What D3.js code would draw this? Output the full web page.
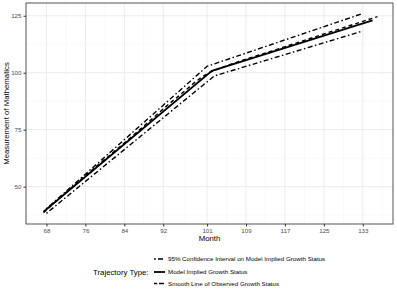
<!DOCTYPE html>
<html>
<head>
<meta charset="utf-8">
<script src="https://cdn.jsdelivr.net/npm/d3@7"></script>
<style>
  body { margin: 0; background: #fff; }
  text { font-family: "Liberation Sans", Arial, sans-serif; }
</style>
</head>
<body>
<svg width="397" height="297"></svg>
<script>
// data
var xTicks = [68, 76, 84, 92, 101, 109, 117, 125, 133];
var yTicks = [50, 75, 100, 125];

var modelMonth = [67.4, 102, 135];
var modelValue = [39, 100.8, 123];

var upperMonth = [68, 101, 133];
var upperValue = [40.3, 102.8, 126];
var lowerMonth = [68, 102.5, 133];
var lowerValue = [38.3, 98.6, 118.3];

var smoothMonth = [67.4, 75, 85, 95, 101, 105, 115, 125, 136];
var smoothValue = [38.6, 53, 71, 89.5, 99.5, 103, 110, 117, 124.6];

var legendLabels = [
  "95% Confidence Interval on Model Implied Growth Status",
  "Model Implied Growth Status",
  "Smooth Line of Observed Growth Status"
];

var svg = d3.select('svg');
var panel = {left: 26, top: 3, right: 393, bottom: 224};

var x = d3.scaleLinear().domain([63.8, 139.2]).range([panel.left, panel.right]);
var y = d3.scaleLinear().domain([33.6, 130.6]).range([panel.bottom, panel.top]);

// minor grid = midpoints between breaks (plus one each side)
var xMinor = [64];
for (var i = 0; i < xTicks.length - 1; i++) xMinor.push((xTicks[i] + xTicks[i + 1]) / 2);
xMinor.push(137);
var yMinor = [37.5, 62.5, 87.5, 112.5];

var grid = svg.append('g');
grid.selectAll('.xm').data(xMinor).enter().append('line')
  .attr('x1', d => x(d)).attr('x2', d => x(d))
  .attr('y1', panel.top).attr('y2', panel.bottom)
  .attr('stroke', '#f2f2f2').attr('stroke-width', 0.5);
grid.selectAll('.ym').data(yMinor).enter().append('line')
  .attr('y1', d => y(d)).attr('y2', d => y(d))
  .attr('x1', panel.left).attr('x2', panel.right)
  .attr('stroke', '#f2f2f2').attr('stroke-width', 0.5);
grid.selectAll('.xM').data(xTicks).enter().append('line')
  .attr('x1', d => x(d)).attr('x2', d => x(d))
  .attr('y1', panel.top).attr('y2', panel.bottom)
  .attr('stroke', '#ebebeb').attr('stroke-width', 1);
grid.selectAll('.yM').data(yTicks).enter().append('line')
  .attr('y1', d => y(d)).attr('y2', d => y(d))
  .attr('x1', panel.left).attr('x2', panel.right)
  .attr('stroke', '#ebebeb').attr('stroke-width', 1);

var line = d3.line().x(d => x(d[0])).y(d => y(d[1]));
var dotdash = '1.5,2.5,5,2.5';

var g = svg.append('g');
g.append('path')
  .datum(d3.zip(upperMonth, upperValue))
  .attr('d', line).attr('fill', 'none').attr('stroke', '#000')
  .attr('stroke-width', 1.4).attr('stroke-dasharray', dotdash);
g.append('path')
  .datum(d3.zip(lowerMonth, lowerValue))
  .attr('d', line).attr('fill', 'none').attr('stroke', '#000')
  .attr('stroke-width', 1.4).attr('stroke-dasharray', dotdash);
g.append('path')
  .datum(d3.zip(smoothMonth, smoothValue))
  .attr('d', d3.line().curve(d3.curveMonotoneX).x(d => x(d[0])).y(d => y(d[1])))
  .attr('fill', 'none').attr('stroke', '#000')
  .attr('stroke-width', 1.4).attr('stroke-dasharray', '4,3');
g.append('path')
  .datum(d3.zip(modelMonth, modelValue))
  .attr('d', line).attr('fill', 'none').attr('stroke', '#000')
  .attr('stroke-width', 1.8);

// panel border
svg.append('rect')
  .attr('x', panel.left).attr('y', panel.top)
  .attr('width', panel.right - panel.left).attr('height', panel.bottom - panel.top)
  .attr('fill', 'none').attr('stroke', '#555').attr('stroke-width', 1);

// axes
var xAxis = svg.append('g')
  .attr('transform', `translate(0,${panel.bottom})`)
  .call(d3.axisBottom(x).tickValues(xTicks).tickSize(2.5).tickPadding(2).tickFormat(d3.format('d')));
var yAxis = svg.append('g')
  .attr('transform', `translate(${panel.left},0)`)
  .call(d3.axisLeft(y).tickValues(yTicks).tickSize(2.5).tickPadding(2).tickFormat(d3.format('d')));
[xAxis, yAxis].forEach(function(a) {
  a.select('.domain').remove();
  a.selectAll('line').attr('stroke', '#333');
  a.selectAll('text').attr('fill', '#4d4d4d').style('font-size', '6.2px')
    .style('font-family', '"Liberation Sans", Arial, sans-serif');
});

svg.append('text')
  .attr('x', (panel.left + panel.right) / 2).attr('y', 241)
  .attr('text-anchor', 'middle').style('font-size', '7.8px')
  .text('Month');
svg.append('text')
  .attr('transform', `translate(9,${(panel.top + panel.bottom) / 2}) rotate(-90)`)
  .attr('text-anchor', 'middle').style('font-size', '7.8px')
  .text('Measurement of Mathematics');

// legend
var legend = svg.append('g');
legend.append('text')
  .attr('x', 93).attr('y', 275)
  .style('font-size', '7.8px')
  .text('Trajectory Type:');
var rowY = [259, 272, 283.5];
var dashes = ['1.8,2.2,5,3', null, '3.2,1.8,5,3'];
var widths = [1.4, 1.8, 1.4];
legendLabels.forEach(function(lbl, i) {
  legend.append('line')
    .attr('x1', 154).attr('x2', 165)
    .attr('y1', rowY[i]).attr('y2', rowY[i])
    .attr('stroke', '#000').attr('stroke-width', widths[i])
    .attr('stroke-dasharray', dashes[i]);
  legend.append('text')
    .attr('x', 168).attr('y', rowY[i] + 2.2)
    .style('font-size', '6.2px')
    .text(lbl);
});
</script>
</body>
</html>
